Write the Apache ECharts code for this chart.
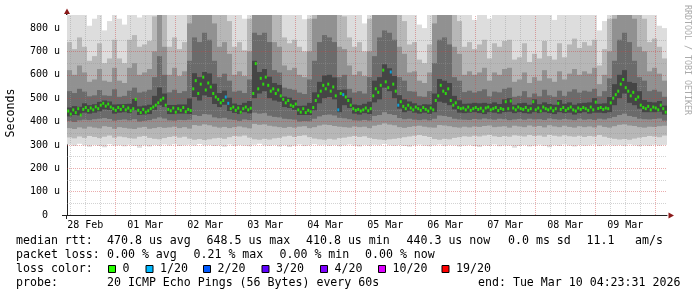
<!DOCTYPE html>
<html>
<head>
<meta charset="utf-8">
<script src="https://cdn.jsdelivr.net/npm/echarts@6.0.0/dist/echarts.min.js"></script>
<style>
html,body{margin:0;padding:0;background:#ffffff;}
#chart{width:697px;height:297px;}
</style>
</head>
<body>
<div id="chart"></div>
<script>
// ================= DATA =================
const dayLabels = ['28 Feb','01 Mar','02 Mar','03 Mar','04 Mar','05 Mar','06 Mar','07 Mar','08 Mar','09 Mar'];
const dayLabelHours = [12,36,60,84,108,132,156,180,204,228]; // hours after 28 Feb 00:00 (noon of each day)
const yTicks = [0,100,200,300,400,500,600,700,800];         // microseconds

// hourly median rtt (us), 240 hours
const median = [
 445,432,450,438,455,428,452,460,447,458,
 450,463,455,470,478,466,475,462,455,448,
 460,452,465,450,458,446,455,495,448,438,
 452,440,446,455,462,470,480,492,500,470,
 452,446,458,440,455,448,460,442,452,447,
 540,575,520,560,590,535,565,548,520,505,
 495,480,490,505,478,455,462,448,458,440,
 455,462,450,457,520,648,540,585,560,590,
 555,530,540,520,535,510,495,480,490,470,
 465,475,450,440,455,438,448,442,460,490,
 510,530,555,540,560,530,548,510,450,520,
 515,505,490,470,455,448,452,445,450,458,
 446,455,510,540,525,555,620,570,545,612,
 560,530,470,485,465,455,470,458,450,462,
 455,448,460,452,445,458,450,490,510,555,
 530,520,540,490,470,480,460,455,458,450,
 462,448,455,460,452,457,445,458,462,450,
 455,460,447,456,452,485,455,488,458,450,
 462,455,452,460,448,455,485,450,458,445,
 462,455,450,458,446,455,478,452,460,448,
 455,462,450,445,458,452,460,455,448,462,
 450,483,456,460,452,458,455,480,500,515,
 530,560,580,545,530,510,525,495,505,470,
 460,455,465,450,462,458,450,470,455,440
];
// hours with packet loss, and lost pings out of 20
const lossHours  = [63,64,108,110,129,132];
const lossCounts = [1,1,1,1,1,1];

// smoke: sorted ping values per 2-hour bin (120 bins), us
const ping1 = [
 302,296,305,298,292,300,295,290,303,297, 299,294,301,296,288,298,293,300,296,302,
 297,303,295,299,301,297,304,298,300,295, 299,292,302,296,300,297,294,301,305,298,
 296,300,293,299,291,297,302,295,299,303, 298,301,296,300,294,298,302,297,293,300,
 296,301,298,304,299,296,300,295,292,298, 301,297,294,299,302,296,300,298,293,297,
 300,295,291,298,296,302,294,299,297,288, 295,300,293,297,301,296,290,299,295,302,
 297,293,300,296,298,302,295,299,301,297, 300,296,302,298,294,299,296,301,297,300
];
const ping20 = [
 900,900,900,900,810,840,900,790,830,900, 840,815,900,900,845,900,900,900,900,900,
 900,900,900,900,900,900,900,900,900,900, 900,900,900,900,900,840,900,900,900,900,
 900,900,900,900,900,900,900,838,900,900, 900,900,900,900,900,900,900,900,900,820,
 900,900,900,900,900,900,900,900,900,900, 815,800,900,900,900,900,900,900,900,900,
 900,835,900,900,840,900,900,900,900,900, 900,900,900,900,900,900,900,835,900,900,
 900,900,900,900,900,900,790,830,900,900, 900,900,900,900,900,900,900,900,810,800
];
const ping3 = [
 332,328,336,330,338,334,329,335,340,331, 336,333,329,327,335,338,330,326,324,329,
 334,337,331,335,327,322,325,321,324,328, 330,326,333,338,336,340,331,324,322,326,
 323,328,330,336,339,334,338,341,333,327, 324,322,326,323,329,331,335,338,334,337,
 330,325,323,321,324,326,329,333,336,339, 342,338,334,325,322,326,324,330,333,337,
 335,339,336,340,343,337,334,338,335,341, 339,336,342,338,340,335,343,339,336,341,
 337,335,339,334,338,336,342,335,330,326, 323,325,322,327,331,334,338,336,333,340
];
const ping18 = [
 740,710,760,720,660,680,735,650,670,750, 670,650,750,770,720,730,745,850,900,860,
 720,760,710,740,900,900,900,900,900,900, 860,880,830,720,740,705,840,900,900,900,
 900,880,860,760,735,750,720,700,840,900, 900,900,900,900,860,850,760,720,740,700,
 840,900,900,900,900,900,860,830,730,740, 665,650,730,900,900,900,900,860,830,720,
 740,710,730,750,670,735,720,745,750,665, 675,735,655,690,670,745,680,665,735,675,
 730,755,715,740,725,750,640,710,840,900, 900,900,900,900,860,840,740,755,720,670
];
const ping5 = [
 372,368,375,370,378,374,371,380,377,369, 376,373,370,368,374,377,369,372,376,373,
 375,378,372,376,370,385,382,388,384,378, 374,377,372,376,379,375,371,390,386,388,
 382,379,376,373,377,374,378,380,372,376, 383,387,385,381,378,376,374,379,376,378,
 372,382,386,392,387,384,376,373,377,380, 382,378,375,374,385,383,380,376,374,378,
 375,379,377,381,383,376,378,380,374,382, 379,376,383,378,381,375,384,379,376,382,
 377,374,380,376,379,375,383,377,374,380, 386,388,383,381,376,374,378,377,380,382
];
const ping16 = [
 620,600,640,610,570,580,625,575,570,630, 575,565,630,650,600,610,625,700,860,720,
 600,630,595,615,820,880,860,900,880,820, 720,740,690,600,615,595,700,900,880,890,
 860,740,720,640,620,630,600,590,700,840, 880,900,880,870,720,710,640,600,615,595,
 700,860,880,900,900,880,720,690,610,615, 575,565,610,820,870,880,860,720,690,600,
 615,600,610,630,575,610,600,625,630,570, 580,610,565,590,575,620,585,570,615,580,
 605,625,600,615,605,630,560,600,700,840, 880,900,870,840,720,700,615,630,605,575
];
const ping7 = [
 402,398,405,408,406,410,412,415,411,404, 407,409,405,410,400,403,406,412,418,413,
 405,404,407,406,408,428,424,432,430,418, 414,416,409,407,403,409,406,438,434,436,
 425,420,418,412,410,408,400,402,401,412, 422,428,430,426,416,414,410,405,404,407,
 404,424,428,440,432,428,415,410,412,408, 406,409,405,412,426,424,420,412,409,408,
 407,411,409,413,410,408,412,410,406,409, 411,408,412,409,410,407,413,410,408,411,
 409,406,412,408,410,407,412,409,414,420, 428,434,424,420,412,410,409,411,413,404
];
const ping14 = [
 530,522,540,528,508,512,535,512,510,538, 506,510,532,545,524,528,536,590,680,600,
 525,536,522,530,660,760,740,780,750,660, 590,605,575,528,532,522,580,780,770,780,
 740,620,610,545,540,536,524,518,580,660, 740,770,760,740,590,600,540,524,530,520,
 590,680,760,790,780,750,590,575,530,528, 508,506,530,650,750,760,730,590,575,526,
 532,524,530,538,508,528,525,540,545,506, 510,530,504,520,508,536,512,506,532,510,
 528,538,524,532,528,540,508,530,585,660, 750,780,740,660,590,575,530,536,528,506
];
const ping9 = [
 422,428,426,438,434,438,444,452,450,434, 438,440,436,448,428,430,432,450,470,462,
 432,432,434,434,432,505,490,512,505,475, 462,472,445,437,432,440,435,500,520,530,
 500,490,485,462,458,450,428,428,428,448, 478,500,505,495,440,470,458,434,430,436,
 432,482,495,545,530,500,455,440,446,438, 434,438,433,440,485,480,470,452,438,436,
 438,440,436,432,440,438,434,440,442,436, 440,436,434,440,436,440,436,432,440,436,
 438,430,436,440,434,438,438,436,440,470, 500,520,480,470,455,440,440,440,442,430
];
const ping12 = [
 460,466,463,478,470,474,484,490,486,473, 474,475,476,497,465,468,472,510,546,520,
 471,471,473,473,499,607,590,612,606,562, 522,532,502,477,471,480,488,660,612,625,
 592,565,557,507,502,492,467,468,480,525, 570,597,600,589,535,537,502,473,470,476,
 485,575,590,645,628,595,513,495,486,478, 469,474,473,520,582,575,565,510,491,476,
 477,480,478,480,476,482,475,495,500,472, 478,480,472,495,474,482,475,472,492,476,
 482,472,478,480,482,500,476,478,505,560, 600,620,570,565,530,492,484,482,488,468
];

// legend / text
const lossLegend       = ['0','1/20','2/20','3/20','4/20','10/20','19/20'];
const lossLegendCounts = [0,1,2,3,4,10,19];
const lossColors       = ['#26ff00','#00b8ff','#0059ff','#5e00ff','#7e00ff','#dd00ff','#ff0000'];
const rttStats  = ['470.8 us avg','648.5 us max','410.8 us min','440.3 us now','0.0 ms sd','11.1','am/s'];
const lossStats = ['0.00 % avg','0.21 % max','0.00 % min','0.00 % now'];
const probeText = '20 ICMP Echo Pings (56 Bytes) every 60s';
const endText   = 'end: Tue Mar 10 04:23:31 2026';

// ================= LAYOUT / STYLE =================
const startHour = 4.7;     // plot starts 04:42 on 28 Feb
const spanHours = 240;
const yMax = 856;
const MONO = 'DejaVu Sans Mono';
const bandColors = ['#dddddd','#b7b7b7','#919191','#6b6b6b','#454545'];
const bands = [[ping1,ping20],[ping3,ping18],[ping5,ping16],[ping7,ping14],[ping9,ping12]];
const MAJOR = 'rgba(205,60,60,0.42)';
const MINOR = 'rgba(150,150,150,0.42)';

function lossColor(count){
  let c = lossColors[0];
  for (let k=0;k<lossLegendCounts.length;k++) if (count>=lossLegendCounts[k]) c = lossColors[k];
  return c;
}

const chart = echarts.init(document.getElementById('chart'), null, {renderer:'canvas'});

const series = [];
bands.forEach((pair, b) => {
  const lo = pair[0], hi = pair[1];
  series.push({
    type:'custom', z: 1+b, silent:true, animation:false,
    encode:{x:0, y:[1,2]},
    data: lo.map((v,j)=>[startHour + 2*j + 1, v, hi[j]]),
    renderItem: function(params, api){
      const x = api.value(0);
      const p1 = api.coord([x-1, api.value(2)]);
      const p2 = api.coord([x+1, api.value(1)]);
      const cs = params.coordSys;
      const shape = echarts.graphic.clipRectByRect(
        {x:p1[0], y:p1[1], width:p2[0]-p1[0], height:p2[1]-p1[1]},
        {x:cs.x, y:cs.y, width:cs.width, height:cs.height});
      return shape && {type:'rect', shape:shape, style:{fill:bandColors[b]}};
    }
  });
});

// grid lines drawn over the smoke
const gridMarks = [];
for (let h=6; h<startHour+spanHours; h+=6){
  gridMarks.push({xAxis:h, lineStyle:{color: h%24===0 ? MAJOR : MINOR, type:[1,1], width:1}});
}
for (let v=50; v<=750; v+=50){
  gridMarks.push({yAxis:v, lineStyle:{color: v%100===0 ? MAJOR : MINOR, type:[1,1], width:1}});
}
series.push({
  type:'line', data:[], z:6, silent:true, animation:false,
  markLine:{silent:true, animation:false, symbol:['none','none'], label:{show:false},
    emphasis:{disabled:true}, data: gridMarks}
});

series.push({
  type:'scatter', z:7, silent:true, animation:false,
  symbol:'rect', symbolSize:[2,3],
  data: median.map((v,i)=>{
    const k = lossHours.indexOf(i);
    return {value:[startHour+i+0.5, v], itemStyle:{color: lossColor(k>=0?lossCounts[k]:0)}};
  })
});

// text graphics
const FS = 11.6;
function txt(text, x, y){
  return {type:'text', x:x, y:y, silent:true,
    style:{text:text, fontFamily:MONO, fontSize:FS, fill:'#000', align:'left', verticalAlign:'middle'}};
}
const graphics = [];
graphics.push(txt('median rtt:', 16, 241));
[107,206.5,306,406.5,508,586.5,635].forEach((x,k)=>graphics.push(txt(rttStats[k], x, 241)));
graphics.push(txt('packet loss:', 16, 255));
[107,193.5,279.5,365].forEach((x,k)=>graphics.push(txt(lossStats[k], x, 255)));
graphics.push(txt('loss color:', 16, 269));
[108.5,146,203.5,262,320.5,378.5,442].forEach((x,k)=>{
  graphics.push({type:'rect', silent:true, shape:{x:x, y:265.5, width:7, height:7},
    style:{fill:lossColors[k], stroke:'#000', lineWidth:1}});
  graphics.push(txt(lossLegend[k], x+14, 269));
});
graphics.push(txt('probe:', 16, 283));
graphics.push(txt(probeText, 107, 283));
graphics.push(txt(endText, 478, 283));
graphics.push({type:'text', x:11, y:113, rotation:Math.PI/2, silent:true,
  style:{text:'Seconds', fontFamily:MONO, fontSize:FS, fill:'#000', align:'center', verticalAlign:'middle'}});
graphics.push({type:'text', x:687, y:5, rotation:-Math.PI/2, silent:true,
  style:{text:'RRDTOOL / TOBI OETIKER', fontFamily:MONO, fontSize:8.3, fill:'#aaaaaa', align:'left', verticalAlign:'middle'}});
// axis extensions and arrows
graphics.push({type:'line', silent:true, shape:{x1:62, y1:215.5, x2:67, y2:215.5}, style:{stroke:'#222', lineWidth:1}});
graphics.push({type:'line', silent:true, shape:{x1:66.5, y1:215, x2:66.5, y2:219}, style:{stroke:'#222', lineWidth:1}});
graphics.push({type:'line', silent:true, shape:{x1:66.5, y1:13, x2:66.5, y2:15}, style:{stroke:'#222', lineWidth:1}});
graphics.push({type:'polygon', silent:true, shape:{points:[[67,8.5],[64,14],[70,14]]}, style:{fill:'#8b1a1a'}});
graphics.push({type:'polygon', silent:true, shape:{points:[[674,215.5],[668.5,212.5],[668.5,218.5]]}, style:{fill:'#8b1a1a'}});

chart.setOption({
  animation:false,
  backgroundColor:'#ffffff',
  grid:{left:67, right:30, top:15, bottom:82, containLabel:false, outerBoundsMode:'none'},
  xAxis:{
    type:'value', min:startHour, max:startHour+spanHours,
    axisLine:{show:true, onZero:false, lineStyle:{color:'#222', width:1}},
    axisTick:{show:false}, splitLine:{show:false},
    axisLabel:{customValues:dayLabelHours, margin:5, color:'#000', fontFamily:MONO, fontSize:10,
      formatter:function(v){ const k = dayLabelHours.indexOf(v); return k>=0 ? dayLabels[k] : ''; }}
  },
  yAxis:{
    type:'value', min:0, max:yMax, interval:100,
    axisLine:{show:true, lineStyle:{color:'#222', width:1}},
    axisTick:{show:false}, splitLine:{show:false},
    axisLabel:{customValues:yTicks, margin:7, color:'#000', fontFamily:MONO, fontSize:10,
      formatter:function(v){ return v===0 ? '0  ' : (yTicks.indexOf(v)>=0 ? v+' u' : ''); }}
  },
  series: series,
  graphic: graphics
});
</script>
</body>
</html>
